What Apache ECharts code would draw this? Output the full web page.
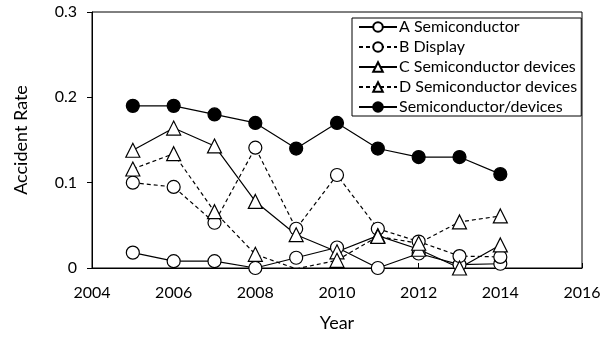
<!DOCTYPE html>
<html><head><meta charset="utf-8">
<script src="https://cdn.jsdelivr.net/npm/echarts@6/dist/echarts.min.js"></script>
<style>html,body{margin:0;padding:0;background:#fff}#c{width:610px;height:338px}</style>
</head><body><div id="c"></div>
<script>
const years = [2005,2006,2007,2008,2009,2010,2011,2012,2013,2014];
const seriesNames = ['A Semiconductor','B Display','C Semiconductor devices','D Semiconductor devices','Semiconductor/devices'];
const aSemi = [0.018,0.008,0.008,0.0,0.012,0.024,0.0,0.017,0.004,0.005];
const bDisplay = [0.100,0.095,0.053,0.141,0.046,0.109,0.046,0.031,0.014,0.013];
const cDevices = [0.138,0.164,0.143,0.078,0.039,0.019,0.038,0.022,0.0,0.027];
const dDevices = [0.116,0.134,0.066,0.016,-0.001,0.009,0.037,0.029,0.054,0.061];
const total = [0.19,0.19,0.18,0.17,0.14,0.17,0.14,0.13,0.13,0.11];
const xTicks = {min:2004,max:2016,interval:2};
const yTicks = {min:0,max:0.3,interval:0.1};

const FONT = 'Lato';
function pairs(v){return years.map((y,i)=>[y,v[i]]);}
function mk(name, vals, symbol, filled, dashed){
  return {
    name, type:'line', data:pairs(vals), symbol, symbolSize: symbol==='triangle'?14:13,
    lineStyle:{color:'#000',width:1.2,type:dashed?[4,3]:'solid'},
    itemStyle:{color:filled?'#000':'#fff',borderColor:'#000',borderWidth:1.2},
    emphasis:{disabled:true}, animation:false
  };
}
const chart = echarts.init(document.getElementById('c'),null,{renderer:'canvas'});
chart.setOption({
  backgroundColor:'#fff',
  animation:false,
  grid:{left:92,right:28,top:12,bottom:70,show:true,borderColor:'#000',borderWidth:1,
    containLabel:false,outerBoundsMode:'none'},
  legend:{
    orient:'vertical', left:352, top:18, padding:[1,4,1,6], itemGap:4,
    itemWidth:38, itemHeight:12,
    borderColor:'#000', borderWidth:1, backgroundColor:'#fff',
    textStyle:{fontFamily:FONT,fontSize:16,color:'#000',padding:[0,0,0,-3]},
    data:seriesNames
  },
  xAxis:{type:'value',min:xTicks.min,max:xTicks.max,interval:xTicks.interval,
    name:'Year',nameLocation:'middle',nameGap:46,
    nameTextStyle:{fontFamily:FONT,fontSize:18,color:'#000'},
    axisLine:{lineStyle:{color:'#000'}},
    axisTick:{inside:true,length:5,lineStyle:{color:'#000'}},
    axisLabel:{fontFamily:FONT,fontSize:16,color:'#000',margin:17,formatter:v=>String(v)},
    splitLine:{show:false}},
  yAxis:{type:'value',min:yTicks.min,max:yTicks.max,interval:yTicks.interval,
    name:'Accident Rate',nameLocation:'middle',nameGap:62,
    nameTextStyle:{fontFamily:FONT,fontSize:18,color:'#000'},
    axisLine:{show:true,lineStyle:{color:'#000'}},
    axisTick:{show:true,inside:false,length:5,lineStyle:{color:'#000'}},
    axisLabel:{fontFamily:FONT,fontSize:16,color:'#000',margin:15,formatter:v=>v===0?'0':v.toFixed(1)},
    splitLine:{show:false}},
  series:[
    mk(seriesNames[0],aSemi,'circle',false,false),
    mk(seriesNames[1],bDisplay,'circle',false,true),
    mk(seriesNames[2],cDevices,'triangle',false,false),
    mk(seriesNames[3],dDevices,'triangle',false,true),
    mk(seriesNames[4],total,'circle',true,false)
  ]
});
</script></body></html>
